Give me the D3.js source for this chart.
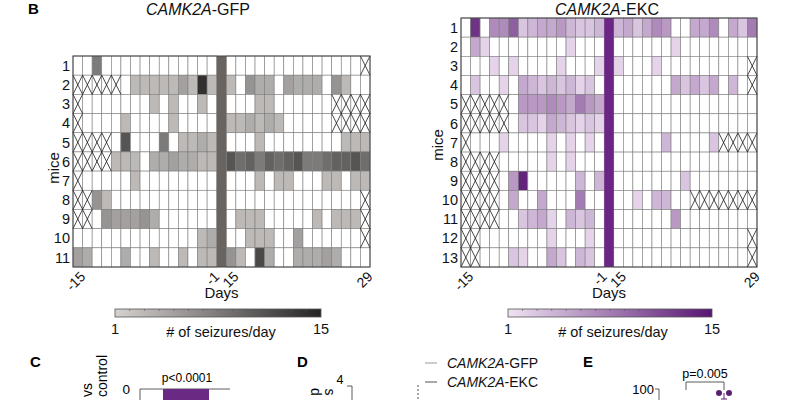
<!DOCTYPE html>
<html><head><meta charset="utf-8">
<script src="https://cdn.jsdelivr.net/npm/d3@7"></script>
<style>
body{margin:0;background:#fff;}
svg{display:block;font-family:"Liberation Sans",Arial,sans-serif;}
</style></head>
<body><svg id="c" width="800" height="400"></svg>
<script>
const N = null; // missing day (crossed cell)
const preDays = ["-15","-14","-13","-12","-11","-10","-9","-8","-7","-6","-5","-4","-3","-2","-1"];
const postDays = ["15","16","17","18","19","20","21","22","23","24","25","26","27","28","29"];
const tickDays = ["-15","-1","15","29"];
const gfpMice = ["1","2","3","4","5","6","7","8","9","10","11"];
const ekcMice = ["1","2","3","4","5","6","7","8","9","10","11","12","13"];

// seizures/day, rows = mice, first 15 = pre days, last 15 = post days
const gfpValues = [
 [0,0,8,0,0,0,0,0,0,0,0,0,0,0,0,   0,0,0,0,0,0,0,0,0,0,0,0,0,0,N],
 [N,N,N,N,N,0,3,3,3,3,3,5,3,14,3,  3,0,6,4,4,0,5,4,4,4,0,6,3,0,0],
 [N,0,0,0,0,0,0,0,3,0,3,0,0,3,0,   0,0,0,3,3,0,0,0,0,0,0,N,N,N,N],
 [N,0,0,0,0,3,0,0,0,0,3,0,0,0,0,   3,3,4,3,4,3,0,0,0,0,0,N,N,N,N],
 [N,N,N,N,0,11,0,0,0,8,0,3,3,4,3,  0,0,0,3,0,0,0,0,0,0,0,0,3,3,3],
 [N,N,N,N,3,3,3,0,4,4,5,4,4,3,3,   11,9,10,8,10,9,10,11,8,8,9,10,10,11,9],
 [N,0,0,0,0,0,3,0,0,0,0,0,0,0,0,   0,0,0,3,0,3,3,0,0,0,3,3,0,3,3],
 [N,N,6,3,0,0,0,0,0,0,0,0,0,0,0,   0,0,0,0,0,0,0,0,0,0,0,0,0,0,N],
 [N,N,0,6,5,5,5,6,4,0,0,0,0,0,0,   0,3,3,3,0,0,0,0,0,3,0,3,3,3,N],
 [0,0,0,0,0,0,0,0,0,0,0,0,0,3,4,   0,0,3,3,3,0,0,5,0,0,0,0,0,0,N],
 [5,4,0,0,0,4,0,0,3,0,0,3,0,3,3,   6,3,0,12,4,0,0,4,4,4,5,4,0,0,0]
];
const ekcValues = [
 [0,13,0,7,7,10,3,4,5,5,6,4,3,3,4,  4,5,3,5,7,6,0,0,5,5,7,0,5,3,8],
 [0,5,2,0,0,0,0,0,0,0,0,2,0,0,0,    0,0,0,0,0,0,2,0,0,0,0,0,0,0,0],
 [0,0,0,2,0,2,0,0,0,0,2,0,0,0,2,    2,0,0,0,2,0,0,0,0,0,0,0,0,0,N],
 [0,3,0,0,2,0,5,4,3,4,3,4,2,3,0,    0,0,0,0,0,0,5,3,5,3,5,0,4,0,N],
 [N,N,N,N,N,0,6,6,6,7,6,5,8,6,5,    0,0,0,0,0,0,0,0,0,0,0,0,0,0,0],
 [N,N,N,N,N,0,3,3,2,5,4,3,2,3,2,    0,0,0,0,0,0,0,0,0,0,0,0,0,0,0],
 [N,0,0,0,2,0,0,0,0,2,0,2,0,2,0,    0,0,0,0,0,4,0,0,0,0,3,N,N,N,N],
 [N,N,N,N,0,0,0,0,0,2,0,2,0,0,0,    0,0,0,0,0,0,0,0,0,0,0,0,0,0,0],
 [N,N,N,N,0,6,14,0,0,0,0,0,4,0,4,   0,0,0,0,0,0,0,3,0,0,0,0,0,0,0],
 [N,N,N,N,0,5,0,0,5,0,0,0,8,0,0,    0,0,2,0,4,4,0,0,N,N,N,N,N,N,N],
 [N,N,N,N,0,0,3,4,5,2,0,4,3,4,0,    0,0,0,0,0,0,6,0,0,0,0,0,0,0,0],
 [N,N,0,0,0,0,0,0,0,2,0,0,0,2,0,    0,0,0,0,0,0,0,0,0,0,0,0,0,0,N],
 [N,N,0,0,0,3,2,0,0,5,3,0,4,3,0,    0,0,0,0,0,0,0,0,0,0,0,0,0,0,N]
];
const colorbarTicks = ["1","15"];
const legendLabels = ["GFP","EKC"];

const svg = d3.select("#c");

function title(g, x, y, gene, suffix){
  const t = g.append("text").attr("x",x).attr("y",y).attr("text-anchor","middle")
    .attr("font-size",16).attr("fill","#111");
  t.append("tspan").attr("font-style","italic").text(gene);
  t.append("tspan").text(suffix);
}

function heatmap(cfg){
  const cols = [...preDays, "sep", ...postDays];
  const x = d3.scaleBand().domain(cols).range([cfg.x0, cfg.x1]);
  const y = d3.scaleBand().domain(cfg.mice).range([cfg.y0, cfg.y1]);
  const color = d3.scaleLinear().domain([1,15]).range(cfg.range).interpolate(d3.interpolateRgb);
  const g = svg.append("g");
  const cells = [];
  cfg.values.forEach((row,i)=>{
    row.forEach((v,j)=>{
      const day = j<15 ? preDays[j] : postDays[j-15];
      cells.push({mouse:cfg.mice[i], day, v});
    });
  });
  g.selectAll("rect.cell").data(cells).join("rect").attr("class","cell")
    .attr("x",d=>x(d.day)).attr("y",d=>y(d.mouse))
    .attr("width",x.bandwidth()).attr("height",y.bandwidth())
    .attr("fill",d=> (d.v && d.v>0) ? color(d.v) : "#fff")
    .attr("stroke","#7e7e7e").attr("stroke-width",0.6);
  const miss = cells.filter(d=>d.v===null);
  g.selectAll("path.miss").data(miss).join("path").attr("class","miss")
    .attr("d",d=>{const a=x(d.day),b=y(d.mouse),w=x.bandwidth(),h=y.bandwidth();
      return `M${a},${b}L${a+w},${b+h}M${a+w},${b}L${a},${b+h}`;})
    .attr("stroke","#1a1a1a").attr("stroke-width",0.8).attr("fill","none");
  g.append("rect").attr("x",x("sep")).attr("y",cfg.y0).attr("width",x.bandwidth())
    .attr("height",cfg.y1-cfg.y0).attr("fill",cfg.sep);
  g.append("rect").attr("x",cfg.x0).attr("y",cfg.y0).attr("width",cfg.x1-cfg.x0)
    .attr("height",cfg.y1-cfg.y0).attr("fill","none").attr("stroke","#444").attr("stroke-width",1);
  g.selectAll("text.row").data(cfg.mice).join("text").attr("class","row")
    .attr("x",cfg.x0-3).attr("y",d=>y(d)+y.bandwidth()/2).attr("dy","0.36em")
    .attr("text-anchor","end").attr("font-size",14.5).attr("fill","#111").text(d=>d);
  g.append("text").attr("transform",`translate(${cfg.miceX},${cfg.miceY}) rotate(-90)`)
    .attr("text-anchor","middle").attr("font-size",15).attr("fill","#111").text("mice");
  g.selectAll("text.tick").data(tickDays).join("text").attr("class","tick")
    .attr("transform",d=>`translate(${x(d)+x.bandwidth()/2+1},${cfg.y1+3}) rotate(-45)`)
    .attr("text-anchor","end").attr("dy","0.75em").attr("font-size",14).attr("fill","#111").text(d=>d);
  g.append("text").attr("x",x("sep")+x.bandwidth()/2).attr("y",cfg.y1+31)
    .attr("text-anchor","middle").attr("font-size",15).attr("fill","#111").text("Days");
  const cb = d3.scaleLinear().domain([1,15]).range([cfg.cbx0, cfg.cbx1]);
  const gid = "grad"+cfg.id;
  const grad = svg.append("defs").append("linearGradient").attr("id",gid);
  grad.append("stop").attr("offset","0%").attr("stop-color",color(1));
  grad.append("stop").attr("offset","100%").attr("stop-color",color(15));
  g.append("rect").attr("x",cb(1)).attr("y",309).attr("width",cb(15)-cb(1)).attr("height",8)
    .attr("fill",`url(#${gid})`).attr("stroke","#555").attr("stroke-width",0.8);
  g.selectAll("line.cbt").data(d3.range(2,15)).join("line").attr("class","cbt")
    .attr("x1",d=>cb(d)).attr("x2",d=>cb(d)).attr("y1",309).attr("y2",311)
    .attr("stroke","#555").attr("stroke-width",0.6);
  g.selectAll("text.cbl").data(colorbarTicks).join("text").attr("class","cbl")
    .attr("x",d=>cb(+d)).attr("y",334).attr("text-anchor","middle").attr("font-size",14.5)
    .attr("fill","#111").text(d=>d);
  g.append("text").attr("x",(cb(1)+cb(15))/2+3).attr("y",337).attr("text-anchor","middle")
    .attr("font-size",14.5).attr("fill","#111").text("# of seizures/day");
}

svg.append("text").attr("x",28).attr("y",14).attr("font-size",15).attr("font-weight","bold").text("B");
title(svg, 198, 15, "CAMK2A", "-GFP");
title(svg, 607, 15, "CAMK2A", "-EKC");

heatmap({id:"g", values:gfpValues, mice:gfpMice, x0:73, x1:370, y0:56, y1:267,
  range:["#d5d2d0","#252323"], sep:"#6a6461", miceX:59, miceY:168,
  cbx0:115, cbx1:321});
heatmap({id:"e", values:ekcValues, mice:ekcMice, x0:461, x1:757, y0:18, y1:267,
  range:["#efe2f2","#571672"], sep:"#6b2584", miceX:443, miceY:145,
  cbx0:508, cbx1:712});

// ---- partial lower panels ----
const cVals = [-1];
const cy = d3.scaleLinear().domain([0,-0.2]).range([389,410]);
const cg = svg.append("g");
cg.append("text").attr("x",30).attr("y",367).attr("font-size",15).attr("font-weight","bold").text("C");
cg.append("line").attr("x1",140).attr("x2",230).attr("y1",cy(0)).attr("y2",cy(0)).attr("stroke","#333").attr("stroke-width",0.8);
cg.append("line").attr("x1",140).attr("x2",140).attr("y1",cy(0)).attr("y2",400).attr("stroke","#333").attr("stroke-width",0.8);
cg.append("text").attr("x",130).attr("y",cy(0)).attr("dy","0.36em").attr("text-anchor","end").attr("font-size",13.5).text("0");
cg.selectAll("rect").data(cVals).join("rect").attr("x",163).attr("width",46)
  .attr("y",cy(0)).attr("height",d=>Math.min(cy(d),400)-cy(0)).attr("fill","#6a2a84");
cg.append("text").attr("x",187).attr("y",382).attr("text-anchor","middle").attr("font-size",12).text("p<0.0001");
cg.append("text").attr("transform","translate(107,376) rotate(-90)").attr("text-anchor","middle").attr("font-size",14).text("control");
cg.append("text").attr("transform","translate(92,390) rotate(-90)").attr("text-anchor","middle").attr("font-size",14).text("vs");

const dg = svg.append("g");
dg.append("text").attr("x",297).attr("y",367).attr("font-size",15).attr("font-weight","bold").text("D");
dg.append("text").attr("x",340).attr("y",384).attr("text-anchor","middle").attr("font-size",12.5).text("4");
dg.append("path").attr("d","M347,386H352V400").attr("stroke","#333").attr("fill","none").attr("stroke-width",0.8);
dg.append("text").attr("transform","translate(311,392) rotate(90)").attr("text-anchor","middle").attr("font-size",14).text("d");
dg.append("text").attr("transform","translate(325,392) rotate(90)").attr("text-anchor","middle").attr("font-size",14).text("s");
dg.append("line").attr("x1",418).attr("x2",418).attr("y1",385).attr("y2",400).attr("stroke","#555").attr("stroke-dasharray","2,2");
const legY = d3.scalePoint().domain(legendLabels).range([363,382]);
const legCol = {GFP:"#9a9a9a", EKC:"#555"};
legendLabels.forEach(k=>{
  dg.append("line").attr("x1",425).attr("x2",437).attr("y1",legY(k)).attr("y2",legY(k)).attr("stroke",legCol[k]).attr("stroke-width",1);
  const t = dg.append("text").attr("x",447).attr("y",legY(k)).attr("dy","0.36em").attr("font-size",14).attr("fill","#111");
  t.append("tspan").attr("font-style","italic").text("CAMK2A");
  t.append("tspan").text("-"+k);
});

const eVals = [100,100];
const ey = d3.scaleLinear().domain([100,90]).range([389,410]);
const eg = svg.append("g");
eg.append("text").attr("x",583).attr("y",367).attr("font-size",15).attr("font-weight","bold").text("E");
eg.append("text").attr("x",654).attr("y",ey(100)).attr("dy","0.36em").attr("text-anchor","end").attr("font-size",13).text("100");
eg.append("path").attr("d",`M655,${ey(100)}H659V400`).attr("stroke","#333").attr("fill","none").attr("stroke-width",0.8);
eg.append("path").attr("d","M686,390V382H724V390").attr("stroke","#333").attr("fill","none").attr("stroke-width",0.8);
eg.append("text").attr("x",705).attr("y",378).attr("text-anchor","middle").attr("font-size",12.5).text("p=0.005");
eg.append("path").attr("d","M724,393V399M721,399H727").attr("stroke","#5a2070").attr("stroke-width",1);
eg.selectAll("circle").data(eVals).join("circle").attr("cx",(d,i)=>[719,729][i]).attr("cy",d=>ey(d)+4)
  .attr("r",3).attr("fill","#5a2070");
</script></body></html>
